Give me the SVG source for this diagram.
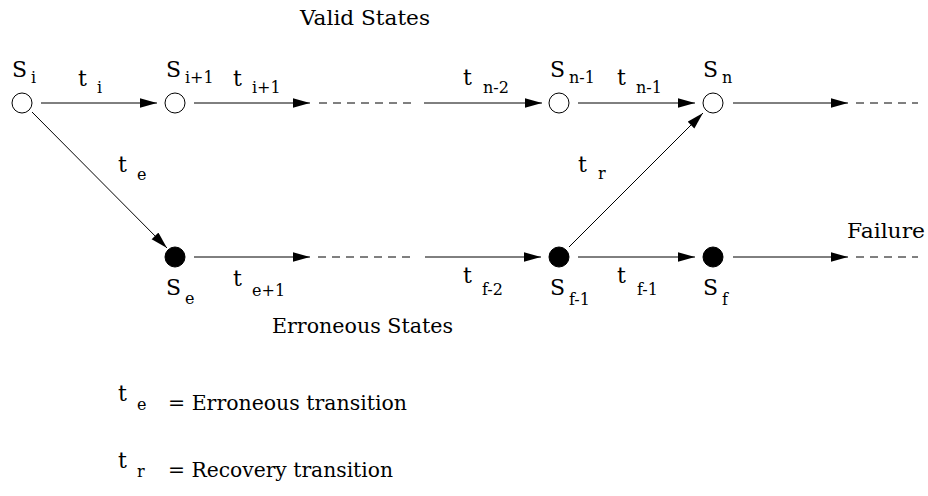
<svg xmlns="http://www.w3.org/2000/svg" width="928" height="496" viewBox="0 0 928 496">
<style>
  text { font-family: "DejaVu Serif", "Liberation Serif", serif; fill: #000; }
  .s { font-size: 22px; }
  .t { font-size: 22px; }
  .sub { font-size: 16px; }
  .lbl { font-size: 20px; }
  .open { fill: #fff; stroke: #000; stroke-width: 1; }
  .full { fill: #000; stroke: #000; stroke-width: 1; }
  .edge { stroke: #000; stroke-width: 1; fill: none; }
  .arr { marker-end: url(#ah); }
  .dash { stroke-dasharray: 8 6; }
</style>
<defs>
  <marker id="ah" markerUnits="userSpaceOnUse" markerWidth="18" markerHeight="10" refX="17" refY="4.75" orient="auto">
    <path d="M0,0 L17,4.75 L0,9.5 z" fill="#000"/>
  </marker>
</defs>

<text class="lbl" x="300" y="25" textLength="130" lengthAdjust="spacingAndGlyphs">Valid States</text>
<text class="lbl" x="272" y="333" textLength="181" lengthAdjust="spacingAndGlyphs">Erroneous States</text>
<text class="lbl" x="847" y="238" textLength="78" lengthAdjust="spacingAndGlyphs">Failure</text>

<g id="connectors">
  <line class="edge arr" x1="41" y1="103" x2="157" y2="103"/>
  <line class="edge arr" x1="194" y1="103" x2="310" y2="103"/>
  <line class="edge dash" x1="319" y1="103" x2="414" y2="103"/>
  <line class="edge arr" x1="424" y1="103" x2="542" y2="103"/>
  <line class="edge arr" x1="578" y1="103" x2="695" y2="103"/>
  <line class="edge arr" x1="733" y1="103" x2="848" y2="103"/>
  <line class="edge dash" x1="856" y1="103" x2="918" y2="103"/>

  <line class="edge arr" x1="194" y1="257" x2="310" y2="257"/>
  <line class="edge dash" x1="318" y1="257" x2="415" y2="257"/>
  <line class="edge arr" x1="425" y1="257" x2="541" y2="257"/>
  <line class="edge arr" x1="578" y1="257" x2="695" y2="257"/>
  <line class="edge arr" x1="733" y1="257" x2="848" y2="257"/>
  <line class="edge dash" x1="856" y1="257" x2="918" y2="257"/>

  <line class="edge arr" x1="32" y1="112" x2="167" y2="248"/>
  <line class="edge arr" x1="569" y1="247" x2="703" y2="113"/>

  <text class="t" x="78" y="86">t</text><text class="sub" x="97" y="93">i</text>
  <text class="t" x="233" y="86">t</text><text class="sub" x="252" y="93">i+1</text>
  <text class="t" x="463" y="85">t</text><text class="sub" x="483" y="93">n-2</text>
  <text class="t" x="617" y="85">t</text><text class="sub" x="636" y="93">n-1</text>
  <text class="t" x="118" y="172">t</text><text class="sub" x="137" y="180">e</text>
  <text class="t" x="578" y="172">t</text><text class="sub" x="598" y="179">r</text>
  <text class="t" x="233" y="286">t</text><text class="sub" x="252" y="296">e+1</text>
  <text class="t" x="463" y="283">t</text><text class="sub" x="482" y="295">f-2</text>
  <text class="t" x="617" y="283">t</text><text class="sub" x="637" y="295">f-1</text>
</g>

<g id="Si">
  <circle class="open" cx="22" cy="103" r="10"/>
  <text class="s" x="12" y="77">S</text><text class="sub" x="31" y="83">i</text>
</g>
<g id="Si1">
  <circle class="open" cx="175" cy="103" r="10"/>
  <text class="s" x="166" y="77">S</text><text class="sub" x="185" y="83">i+1</text>
</g>
<g id="Sn1">
  <circle class="open" cx="559" cy="103" r="10"/>
  <text class="s" x="550" y="77">S</text><text class="sub" x="569" y="83">n-1</text>
</g>
<g id="Sn">
  <circle class="open" cx="713" cy="103" r="10"/>
  <text class="s" x="703" y="77">S</text><text class="sub" x="722" y="83">n</text>
</g>
<g id="Se">
  <circle class="full" cx="175" cy="257" r="10"/>
  <text class="s" x="166" y="295">S</text><text class="sub" x="185" y="304">e</text>
</g>
<g id="Sf1">
  <circle class="full" cx="559" cy="257" r="10"/>
  <text class="s" x="550" y="295">S</text><text class="sub" x="569" y="305">f-1</text>
</g>
<g id="Sf">
  <circle class="full" cx="713" cy="257" r="10"/>
  <text class="s" x="703" y="295">S</text><text class="sub" x="722" y="305">f</text>
</g>

<g id="legend">
  <text class="t" x="118" y="401">t</text><text class="sub" x="137" y="410">e</text>
  <text class="lbl" x="168" y="410" textLength="239" lengthAdjust="spacingAndGlyphs">= Erroneous transition</text>
  <text class="t" x="118" y="468">t</text><text class="sub" x="137" y="477">r</text>
  <text class="lbl" x="168" y="477" textLength="225" lengthAdjust="spacingAndGlyphs">= Recovery transition</text>
</g>
</svg>
